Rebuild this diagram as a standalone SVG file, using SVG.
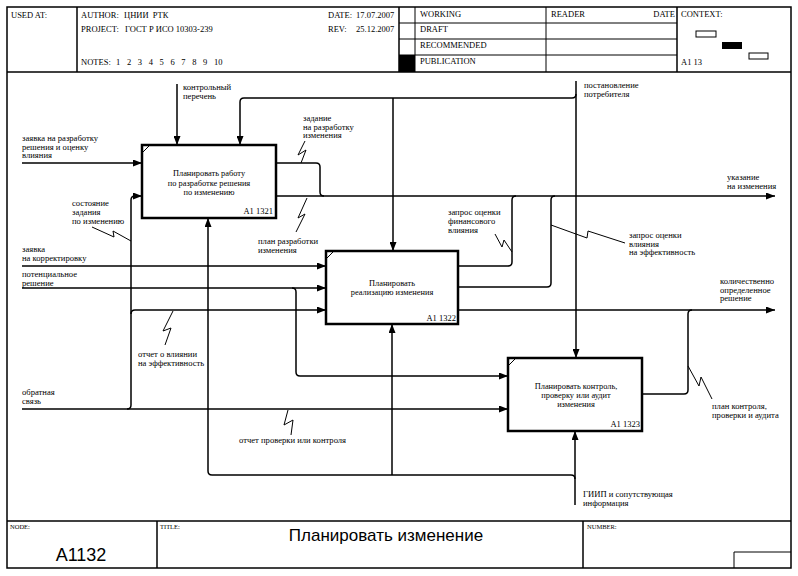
<svg xmlns="http://www.w3.org/2000/svg" width="798" height="576" viewBox="0 0 798 576">
<defs>
<marker id="ah" markerUnits="userSpaceOnUse" markerWidth="9" markerHeight="7" refX="9" refY="3.5" orient="auto">
<path d="M0,0 L9,3.5 L0,7 z" fill="#000"/>
</marker>
<style>
.frame{fill:none;stroke:#000;stroke-width:1.5}
.thin{fill:none;stroke:#000;stroke-width:1}
.box{fill:#fff;stroke:#000;stroke-width:2.5}
.c{fill:none;stroke:#000;stroke-width:1.5}
.ca{fill:none;stroke:#000;stroke-width:1.5;marker-end:url(#ah)}
.sq{fill:none;stroke:#000;stroke-width:1}
.h{font-family:"Liberation Serif",serif;font-size:8.5px;fill:#000}
.hs{font-family:"Liberation Serif",serif;font-size:6.5px;fill:#000}
.l{font-family:"Liberation Serif",serif;font-size:8.6px;fill:#000}
.bt{font-family:"Liberation Serif",serif;font-size:8.4px;fill:#000;text-anchor:middle}
.nn{font-family:"Liberation Serif",serif;font-size:8.5px;fill:#000;text-anchor:end}
</style>
</defs>
<rect x="0" y="0" width="798" height="576" fill="#fff"/>
<g id="frame">
<rect class="frame" x="7" y="7" width="784" height="561"/>
<line class="frame" x1="7" y1="72" x2="791" y2="72"/>
<line class="frame" x1="7" y1="521" x2="791" y2="521"/>
<line class="frame" x1="77" y1="7" x2="77" y2="72"/>
<line class="frame" x1="399" y1="7" x2="399" y2="72"/>
<line class="thin" x1="415" y1="7" x2="415" y2="72"/>
<line class="thin" x1="546" y1="7" x2="546" y2="72"/>
<line class="frame" x1="677" y1="7" x2="677" y2="72"/>
<line class="thin" x1="399" y1="23" x2="677" y2="23"/>
<line class="thin" x1="399" y1="39" x2="677" y2="39"/>
<line class="thin" x1="399" y1="55" x2="677" y2="55"/>
<rect x="399" y="55" width="16" height="17" fill="#000"/>
<rect class="thin" x="696" y="31" width="20" height="6" fill="#fff"/>
<rect x="722" y="42" width="20" height="7" fill="#000"/>
<rect class="thin" x="749" y="53" width="19" height="6" fill="#fff"/>
<line class="frame" x1="157" y1="521" x2="157" y2="568"/>
<line class="frame" x1="583" y1="521" x2="583" y2="568"/>
<polyline class="thin" points="734,568 734,552 791,552"/>
</g>
<g id="header-text">
<text class="h" x="11" y="18">USED AT:</text>
<text class="h" x="81" y="18">AUTHOR:</text>
<text class="h" x="124" y="18" word-spacing="2">ЦНИИ РТК</text>
<text class="h" x="328" y="18">DATE:</text>
<text class="h" x="356" y="18">17.07.2007</text>
<text class="h" x="81" y="32">PROJECT:</text>
<text class="h" x="125" y="32">ГОСТ Р ИСО 10303-239</text>
<text class="h" x="328" y="32">REV:</text>
<text class="h" x="356" y="32">25.12.2007</text>
<text class="h" x="81" y="65">NOTES:</text>
<text class="h" x="116" y="65" word-spacing="4.5">1 2 3 4 5 6 7 8 9 10</text>
<text class="h" x="420" y="17">WORKING</text>
<text class="h" x="420" y="32">DRAFT</text>
<text class="h" x="420" y="48">RECOMMENDED</text>
<text class="h" x="420" y="64">PUBLICATION</text>
<text class="h" x="551" y="17">READER</text>
<text class="h" x="675" y="17" text-anchor="end">DATE</text>
<text class="h" x="681" y="17">CONTEXT:</text>
<text class="h" x="681" y="65">A1 13</text>
<text class="hs" x="10" y="529">NODE:</text>
<text class="hs" x="160" y="529">TITLE:</text>
<text class="hs" x="587" y="529">NUMBER:</text>
<text x="386" y="541" text-anchor="middle" font-family="Liberation Sans, Arial, sans-serif" font-size="17">Планировать изменение</text>
<text x="81" y="561" text-anchor="middle" font-family="Liberation Sans, Arial, sans-serif" font-size="18">A1132</text>
</g>
<g id="connectors">
<path class="ca" d="M177,84 V145"/>
<path class="ca" d="M576,81 V358"/>
<path class="ca" d="M576,94 Q576,98 572,98 H244 Q240,98 240,102 V145"/>
<path class="ca" d="M393,98 V251"/>
<path class="ca" d="M22,163 H142"/>
<path class="c" d="M276,163 H316 Q320,163 320,167 V192 Q320,196 324,196"/>
<path class="ca" d="M276,196 H775"/>
<path class="c" d="M458,266 H508 Q512,266 512,262 V200 Q512,196 516,196"/>
<path class="c" d="M458,287 H547 Q551,287 551,283 V200 Q551,196 555,196"/>
<path class="ca" d="M458,310 H775"/>
<path class="c" d="M642,394 H684 Q688,394 688,390 V314 Q688,310 692,310"/>
<path class="ca" d="M22,266 H326"/>
<path class="ca" d="M22,288 H326"/>
<path class="ca" d="M292,288 Q296,288 296,292 V372 Q296,376 300,376 H508"/>
<path class="ca" d="M22,409 H508"/>
<path class="ca" d="M127,409 Q131,409 131,405 V200 Q131,196 135,196 H142"/>
<path class="ca" d="M131,314 Q131,310 135,310 H326"/>
<path class="ca" d="M575,505 V431"/>
<path class="ca" d="M575,479 Q575,475 571,475 H212 Q208,475 208,471 V218"/>
<path class="ca" d="M392,475 V324"/>
<path class="sq" d="M305,141 L298,155 L306,150 L301,163"/>
<path class="sq" d="M307,198 L298,218 L305,214 L296,232"/>
<path class="sq" d="M92,227 L114,237 L113,231 L131,241"/>
<path class="sq" d="M495,234 L502,247 L504,240 L512,252"/>
<path class="sq" d="M551,225 L587,238 L588,231 L625,243"/>
<path class="sq" d="M173,311 L163,331 L171,328 L165,345"/>
<path class="sq" d="M288,410 L284,425 L293,420 L291,435"/>
<path class="sq" d="M688,366 L699,386 L701,377 L712,399"/>
</g>
<g id="box-A1321">
<rect class="box" x="142" y="145" width="134" height="73"/>
<line class="thin" x1="143" y1="152" x2="149" y2="146"/>
<text class="bt" x="209" y="176">Планировать работу</text>
<text class="bt" x="209" y="185.5">по разработке решения</text>
<text class="bt" x="209" y="195">по изменению</text>
<text class="nn" x="273" y="214">A1 1321</text>
</g>
<g id="box-A1322">
<rect class="box" x="326" y="251" width="132" height="73"/>
<line class="thin" x1="327" y1="258" x2="333" y2="252"/>
<text class="bt" x="392" y="286">Планировать</text>
<text class="bt" x="392" y="295">реализацию изменения</text>
<text class="nn" x="456" y="321">A1 1322</text>
</g>
<g id="box-A1323">
<rect class="box" x="508" y="358" width="134" height="73"/>
<line class="thin" x1="509" y1="365" x2="515" y2="359"/>
<text class="bt" x="576" y="389">Планировать контроль,</text>
<text class="bt" x="576" y="398">проверку или аудит</text>
<text class="bt" x="576" y="407">изменения</text>
<text class="nn" x="640" y="427">A1 1323</text>
</g>
<g id="labels">
<text class="l" x="183" y="90">контрольный</text>
<text class="l" x="183" y="98.5">перечень</text>
<text class="l" x="584" y="88">постановление</text>
<text class="l" x="584" y="96.5">потребителя</text>
<text class="l" x="22" y="141">заявка на разработку</text>
<text class="l" x="22" y="149.5">решения и оценку</text>
<text class="l" x="22" y="158">влияния</text>
<text class="l" x="303" y="121">задание</text>
<text class="l" x="303" y="129.5">на разработку</text>
<text class="l" x="303" y="138">изменения</text>
<text class="l" x="258" y="244">план разработки</text>
<text class="l" x="258" y="252.5">изменения</text>
<text class="l" x="72" y="206">состояние</text>
<text class="l" x="72" y="215">задания</text>
<text class="l" x="72" y="224">по изменению</text>
<text class="l" x="22" y="252">заявка</text>
<text class="l" x="22" y="261">на корректировку</text>
<text class="l" x="22" y="277">потенциальное</text>
<text class="l" x="22" y="285.5">решение</text>
<text class="l" x="448" y="215">запрос оценки</text>
<text class="l" x="448" y="224">финансового</text>
<text class="l" x="448" y="233">влияния</text>
<text class="l" x="629" y="238">запрос оценки</text>
<text class="l" x="629" y="246.5">влияния</text>
<text class="l" x="629" y="255">на эффективность</text>
<text class="l" x="727" y="180">указание</text>
<text class="l" x="727" y="188.5">на изменения</text>
<text class="l" x="720" y="284">количественно</text>
<text class="l" x="720" y="292.5">определенное</text>
<text class="l" x="720" y="301">решение</text>
<text class="l" x="712" y="409">план контроля,</text>
<text class="l" x="712" y="417.5">проверки и аудита</text>
<text class="l" x="138" y="357">отчет о влиянии</text>
<text class="l" x="138" y="366">на эффективность</text>
<text class="l" x="22" y="395">обратная</text>
<text class="l" x="22" y="404">связь</text>
<text class="l" x="239" y="443">отчет проверки или контроля</text>
<text class="l" x="583" y="497">ГИИП и сопутствующая</text>
<text class="l" x="583" y="506">информация</text>
</g>
</svg>
